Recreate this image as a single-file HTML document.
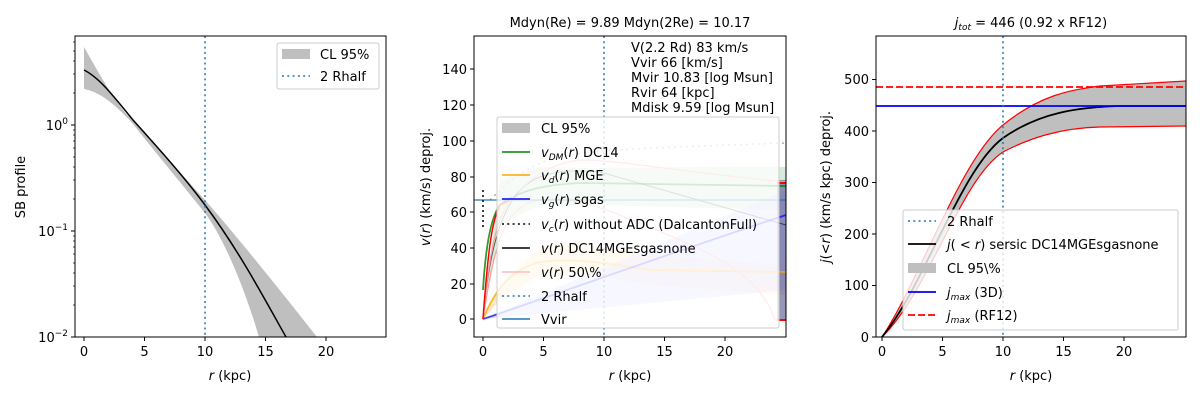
<!DOCTYPE html>
<html><head><meta charset="utf-8"><style>
html,body{margin:0;padding:0;background:#fff}
svg{display:block;font-family:"DejaVu Sans","Liberation Sans",sans-serif;font-size:13px}
</style></head><body>
<svg width="1200" height="400" viewBox="0 0 1200 400" xmlns="http://www.w3.org/2000/svg">
<rect width="1200" height="400" fill="#fff"/>
<defs>
<clipPath id="c1"><rect x="75" y="36" width="311" height="301"/></clipPath>
<clipPath id="c2"><rect x="474" y="36" width="312" height="301"/></clipPath>
<clipPath id="c3"><rect x="876" y="36" width="310" height="301"/></clipPath>
</defs>

<!-- ===== Panel 1 ===== -->
<g clip-path="url(#c1)">
<path d="M84,47 C100,75 115,103 133,121 C160,150 185,178 205,200 C240,240 280,290 317,337 L259,337 C245,290 225,240 205,213 C185,188 160,158 133,124 C115,104 100,92 84,89 Z" fill="#bfbfbf"/>
<path d="M84,70 C100,78 115,98 133,120 C160,150 185,178 205,205 C240,252 265,300 286,337" fill="none" stroke="#000" stroke-width="1.5"/>
<line x1="205" y1="36" x2="205" y2="337" stroke="#1f77b4" stroke-width="1.5" stroke-dasharray="2,3.3"/>
</g>
<rect x="75" y="36" width="311" height="301" fill="none" stroke="#000" stroke-width="1"/>
<g stroke="#000" stroke-width="1">
<line x1="84" y1="337" x2="84" y2="341"/><line x1="144.5" y1="337" x2="144.5" y2="341"/><line x1="205" y1="337" x2="205" y2="341"/><line x1="265.5" y1="337" x2="265.5" y2="341"/><line x1="326" y1="337" x2="326" y2="341"/>
<line x1="71" y1="125" x2="75" y2="125"/><line x1="71" y1="231" x2="75" y2="231"/><line x1="71" y1="337" x2="75" y2="337"/>
</g>
<g stroke="#000" stroke-width="0.7">
<line x1="73" y1="305" x2="75" y2="305"/><line x1="73" y1="286" x2="75" y2="286"/><line x1="73" y1="273" x2="75" y2="273"/><line x1="73" y1="263" x2="75" y2="263"/><line x1="73" y1="254" x2="75" y2="254"/><line x1="73" y1="247" x2="75" y2="247"/><line x1="73" y1="241" x2="75" y2="241"/><line x1="73" y1="236" x2="75" y2="236"/>
<line x1="73" y1="199" x2="75" y2="199"/><line x1="73" y1="180" x2="75" y2="180"/><line x1="73" y1="167" x2="75" y2="167"/><line x1="73" y1="157" x2="75" y2="157"/><line x1="73" y1="148" x2="75" y2="148"/><line x1="73" y1="141" x2="75" y2="141"/><line x1="73" y1="135" x2="75" y2="135"/><line x1="73" y1="130" x2="75" y2="130"/>
<line x1="73" y1="93" x2="75" y2="93"/><line x1="73" y1="74" x2="75" y2="74"/><line x1="73" y1="61" x2="75" y2="61"/><line x1="73" y1="51" x2="75" y2="51"/><line x1="73" y1="42" x2="75" y2="42"/>
</g>
<g text-anchor="middle">
<text x="84" y="356">0</text><text x="144.5" y="356">5</text><text x="205" y="356">10</text><text x="265.5" y="356">15</text><text x="326" y="356">20</text>
<text x="230" y="380"><tspan font-style="italic">r</tspan> (kpc)</text>
</g>
<g text-anchor="end">
<text x="68" y="130">10<tspan dy="-6" font-size="9">0</tspan></text>
<text x="68" y="236">10<tspan dy="-6" font-size="9">−1</tspan></text>
<text x="68" y="342">10<tspan dy="-6" font-size="9">−2</tspan></text>
</g>
<text transform="translate(25,187) rotate(-90)" text-anchor="middle">SB profile</text>
<rect x="277" y="43" width="102" height="46" fill="#fff" stroke="#ccc" rx="2"/>
<rect x="282" y="49" width="28" height="10" fill="#bfbfbf"/>
<text x="320" y="59">CL 95%</text>
<line x1="282" y1="76" x2="310" y2="76" stroke="#1f77b4" stroke-width="1.5" stroke-dasharray="2,3.3"/>
<text x="320" y="81">2 Rhalf</text>

<!-- ===== Panel 2 ===== -->
<text x="630" y="27" text-anchor="middle">Mdyn(Re) = 9.89  Mdyn(2Re) = 10.17</text>
<g clip-path="url(#c2)">
<path d="M483,319 L500,180 L540,167 L600,168 L700,167 L786,167 L786,210 L700,208 L600,205 L540,205 L500,225 L483,319 Z" fill="#d8ebd8"/>
<path d="M483,319 L500,285 L540,247 L575,242 L650,255 L786,265 L786,295 L650,285 L575,272 L540,275 L500,300 Z" fill="#fde2b0" opacity="0.8"/>
<path d="M483,319 L786,190 L786,290 L483,319 Z" fill="#b8b8ff" opacity="0.55"/>
<rect x="777" y="180" width="9" height="140" fill="#6a6a9a" opacity="0.7"/>
<path d="M483,290 C486,240 492,215 500,205 C520,190 545,184 585,183 L786,186" fill="none" stroke="#008000" stroke-width="1.8" opacity="0.8"/>
<path d="M483,319 C495,290 510,270 540,262 C570,258 600,262 650,270 L786,272" fill="none" stroke="#ffa500" stroke-width="1.8" opacity="0.8"/>
<path d="M483,319 C540,300 650,260 786,215" fill="none" stroke="#0000ff" stroke-width="1.8" opacity="0.7"/>
<path d="M483,319 C490,240 505,190 540,177 C560,170 570,170 600,172 L786,225" fill="none" stroke="#000" stroke-width="1" opacity="0.6"/>
<path d="M483,319 C490,240 500,205 520,190 C540,170 560,162 580,160 C620,160 680,172 786,182" fill="none" stroke="#ff9999" stroke-width="1.2"/>
<path d="M483,319 C495,240 505,205 540,200 C580,195 620,215 680,240 C740,265 765,290 775,320 L786,320" fill="none" stroke="#ff9999" stroke-width="1.2"/>
<path d="M483,319 C488,250 492,220 500,205 L510,200" fill="none" stroke="#ff0000" stroke-width="1.5"/>
<path d="M490,200 C520,170 540,160 570,155 C600,150 640,148 786,143" fill="none" stroke="#aaa" stroke-width="1.5" stroke-dasharray="2,4"/>
<line x1="474" y1="200" x2="786" y2="200" stroke="#1f77b4" stroke-width="1.5" opacity="0.8"/>
<line x1="604" y1="36" x2="604" y2="337" stroke="#1f77b4" stroke-width="1.5" stroke-dasharray="2,3.3"/>
<line x1="483" y1="190" x2="483" y2="230" stroke="#000" stroke-width="1.5" stroke-dasharray="2,3"/>
<line x1="777" y1="183" x2="786" y2="183" stroke="#ff0000" stroke-width="2"/>
<line x1="777" y1="320" x2="786" y2="320" stroke="#ff0000" stroke-width="2"/>
</g>
<rect x="474" y="36" width="312" height="301" fill="none" stroke="#000" stroke-width="1"/>
<g stroke="#000">
<line x1="483" y1="337" x2="483" y2="341"/><line x1="543.5" y1="337" x2="543.5" y2="341"/><line x1="604" y1="337" x2="604" y2="341"/><line x1="664.5" y1="337" x2="664.5" y2="341"/><line x1="725" y1="337" x2="725" y2="341"/>
<line x1="470" y1="319" x2="474" y2="319"/><line x1="470" y1="284" x2="474" y2="284"/><line x1="470" y1="248" x2="474" y2="248"/><line x1="470" y1="212" x2="474" y2="212"/><line x1="470" y1="177" x2="474" y2="177"/><line x1="470" y1="141" x2="474" y2="141"/><line x1="470" y1="105" x2="474" y2="105"/><line x1="470" y1="69" x2="474" y2="69"/>
</g>
<g text-anchor="middle">
<text x="483" y="356">0</text><text x="543.5" y="356">5</text><text x="604" y="356">10</text><text x="664.5" y="356">15</text><text x="725" y="356">20</text>
<text x="630" y="380"><tspan font-style="italic">r</tspan> (kpc)</text>
</g>
<g text-anchor="end">
<text x="467" y="324">0</text><text x="467" y="289">20</text><text x="467" y="253">40</text><text x="467" y="217">60</text><text x="467" y="182">80</text><text x="467" y="146">100</text><text x="467" y="110">120</text><text x="467" y="74">140</text>
</g>
<text transform="translate(430,187) rotate(-90)" text-anchor="middle"><tspan font-style="italic">v</tspan>(<tspan font-style="italic">r</tspan>) (km/s) deproj.</text>
<g>
<text x="631" y="52">V(2.2 Rd) 83 km/s</text>
<text x="631" y="67">Vvir 66 [km/s]</text>
<text x="631" y="82">Mvir 10.83 [log Msun]</text>
<text x="631" y="97">Rvir 64 [kpc]</text>
<text x="631" y="112">Mdisk 9.59 [log Msun]</text>
</g>
<rect x="497" y="117" width="282" height="211" fill="#fff" fill-opacity="0.8" stroke="#ccc" rx="2"/>
<rect x="502" y="123" width="28" height="10" fill="#bfbfbf"/>
<text x="541" y="133">CL 95%</text>
<line x1="502" y1="152" x2="530" y2="152" stroke="#008000" stroke-width="1.5"/>
<text x="541" y="157"><tspan font-style="italic">v<tspan font-size="9" dy="3">DM</tspan></tspan><tspan dy="-3">(</tspan><tspan font-style="italic">r</tspan>) DC14</text>
<line x1="502" y1="175" x2="530" y2="175" stroke="#ffa500" stroke-width="1.5"/>
<text x="541" y="180"><tspan font-style="italic">v<tspan font-size="9" dy="3">d</tspan></tspan><tspan dy="-3">(</tspan><tspan font-style="italic">r</tspan>) MGE</text>
<line x1="502" y1="199" x2="530" y2="199" stroke="#0000ff" stroke-width="1.5"/>
<text x="541" y="204"><tspan font-style="italic">v<tspan font-size="9" dy="3">g</tspan></tspan><tspan dy="-3">(</tspan><tspan font-style="italic">r</tspan>) sgas</text>
<line x1="502" y1="224" x2="530" y2="224" stroke="#000" stroke-width="1.5" stroke-dasharray="2,3.3"/>
<text x="541" y="229"><tspan font-style="italic">v<tspan font-size="9" dy="3">c</tspan></tspan><tspan dy="-3">(</tspan><tspan font-style="italic">r</tspan>) without ADC (DalcantonFull)</text>
<line x1="502" y1="248" x2="530" y2="248" stroke="#000" stroke-width="1.5"/>
<text x="541" y="253"><tspan font-style="italic">v</tspan>(<tspan font-style="italic">r</tspan>) DC14MGEsgasnone</text>
<line x1="502" y1="272" x2="530" y2="272" stroke="#ffbbbb" stroke-width="1.5"/>
<text x="541" y="277"><tspan font-style="italic">v</tspan>(<tspan font-style="italic">r</tspan>) 50\%</text>
<line x1="502" y1="296" x2="530" y2="296" stroke="#1f77b4" stroke-width="1.5" stroke-dasharray="2,3.3"/>
<text x="541" y="301">2 Rhalf</text>
<line x1="502" y1="319" x2="530" y2="319" stroke="#1f77b4" stroke-width="1.5"/>
<text x="541" y="324">Vvir</text>

<!-- ===== Panel 3 ===== -->
<text x="1031" y="27" text-anchor="middle"><tspan font-style="italic">j<tspan font-size="9" dy="3">tot</tspan></tspan><tspan dy="-3"> = 446 (0.92 x RF12)</tspan></text>
<g clip-path="url(#c3)">
<path d="M882,337 C920,280 960,160 1003,125 C1040,95 1070,90 1100,86 L1186,81 L1186,126 L1100,127 C1060,128 1030,138 1003,152 C960,180 930,290 882,337 Z" fill="#bfbfbf"/>
<path d="M882,337 C920,280 960,160 1003,125 C1040,95 1070,90 1100,86 L1186,81" fill="none" stroke="#ff0000" stroke-width="1.2"/>
<path d="M882,337 C930,290 960,180 1003,152 C1030,138 1060,128 1100,127 L1186,126" fill="none" stroke="#ff0000" stroke-width="1.2"/>
<path d="M882,337 C925,285 960,170 1003,138 C1040,112 1080,107 1120,106 L1186,106" fill="none" stroke="#000" stroke-width="1.8"/>
<line x1="876" y1="106" x2="1186" y2="106" stroke="#0000ff" stroke-width="1.8"/>
<line x1="876" y1="87" x2="1186" y2="87" stroke="#ff0000" stroke-width="1.8" stroke-dasharray="7,3"/>
<line x1="1003" y1="36" x2="1003" y2="337" stroke="#1f77b4" stroke-width="1.5" stroke-dasharray="2,3.3"/>
</g>
<rect x="876" y="36" width="310" height="301" fill="none" stroke="#000" stroke-width="1"/>
<g stroke="#000">
<line x1="882" y1="337" x2="882" y2="341"/><line x1="942.5" y1="337" x2="942.5" y2="341"/><line x1="1003" y1="337" x2="1003" y2="341"/><line x1="1063.5" y1="337" x2="1063.5" y2="341"/><line x1="1124" y1="337" x2="1124" y2="341"/>
<line x1="872" y1="337" x2="876" y2="337"/><line x1="872" y1="285.5" x2="876" y2="285.5"/><line x1="872" y1="234" x2="876" y2="234"/><line x1="872" y1="182.5" x2="876" y2="182.5"/><line x1="872" y1="131" x2="876" y2="131"/><line x1="872" y1="79.5" x2="876" y2="79.5"/>
</g>
<g text-anchor="middle">
<text x="882" y="356">0</text><text x="942.5" y="356">5</text><text x="1003" y="356">10</text><text x="1063.5" y="356">15</text><text x="1124" y="356">20</text>
<text x="1031" y="380"><tspan font-style="italic">r</tspan> (kpc)</text>
</g>
<g text-anchor="end">
<text x="869" y="342">0</text><text x="869" y="290">100</text><text x="869" y="239">200</text><text x="869" y="187">300</text><text x="869" y="136">400</text><text x="869" y="84">500</text>
</g>
<text transform="translate(830,187) rotate(-90)" text-anchor="middle"><tspan font-style="italic">j</tspan>(&lt;<tspan font-style="italic">r</tspan>) (km/s kpc) deproj.</text>
<rect x="903" y="210" width="275" height="120" fill="#fff" fill-opacity="0.8" stroke="#ccc" rx="2"/>
<line x1="908" y1="221" x2="936" y2="221" stroke="#1f77b4" stroke-width="1.5" stroke-dasharray="2,3.3"/>
<text x="947" y="226">2 Rhalf</text>
<line x1="908" y1="244" x2="936" y2="244" stroke="#000" stroke-width="1.8"/>
<text x="947" y="249"><tspan font-style="italic">j</tspan>( &lt; <tspan font-style="italic">r</tspan>) sersic DC14MGEsgasnone</text>
<rect x="908" y="263" width="28" height="10" fill="#bfbfbf"/>
<text x="947" y="273">CL 95\%</text>
<line x1="908" y1="292" x2="936" y2="292" stroke="#0000ff" stroke-width="1.8"/>
<text x="947" y="297"><tspan font-style="italic">j<tspan font-size="9" dy="3">max</tspan></tspan><tspan dy="-3"> (3D)</tspan></text>
<line x1="908" y1="315" x2="936" y2="315" stroke="#ff0000" stroke-width="1.8" stroke-dasharray="7,3"/>
<text x="947" y="320"><tspan font-style="italic">j<tspan font-size="9" dy="3">max</tspan></tspan><tspan dy="-3"> (RF12)</tspan></text>
</svg>
</body></html>
